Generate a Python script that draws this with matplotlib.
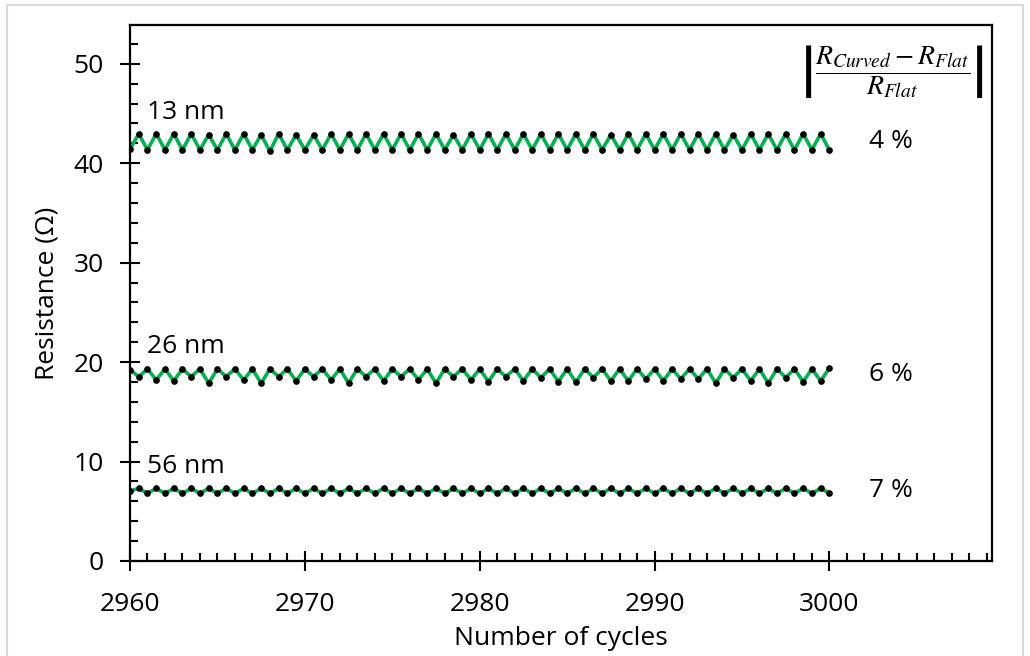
import numpy as np
import matplotlib
matplotlib.use("Agg")
import matplotlib.pyplot as plt
from matplotlib.patches import Rectangle

plt.rcParams['font.family'] = ['Open Sans', 'DejaVu Sans']
plt.rcParams['mathtext.fontset'] = 'stix'

# cycles: one point every half cycle, 2960 .. 3000
cycles = np.arange(2960, 3000.5, 0.5)

# 13 nm film: lows on whole cycles, highs on half cycles
r13_low = [41.4, 41.35, 41.35, 41.35, 41.35, 41.35, 41.35, 41.35, 41.2, 41.35,
           41.35, 41.35, 41.35, 41.35, 41.35, 41.35, 41.35, 41.35, 41.35, 41.35,
           41.35, 41.35, 41.35, 41.35, 41.35, 41.35, 41.35, 41.35, 41.35, 41.35,
           41.35, 41.35, 41.35, 41.35, 41.35, 41.35, 41.35, 41.35, 41.35, 41.35,
           41.35]
r13_high = [42.96, 42.96, 42.96, 42.96, 42.86, 42.96, 42.96, 42.86, 42.96, 42.86,
            42.86, 42.96, 42.96, 42.96, 42.96, 42.96, 42.96, 42.96, 42.86, 42.96,
            42.96, 42.96, 42.96, 42.96, 42.96, 42.96, 42.96, 42.86, 42.96, 42.96,
            42.96, 42.96, 42.96, 42.96, 42.86, 42.96, 42.96, 42.96, 42.96, 42.96]

# 26 nm film: highs on whole cycles, lows on half cycles
r26_high = [19.22, 19.32, 19.32, 19.32, 19.32, 19.32, 19.32, 19.32, 19.32, 19.32,
            19.32, 19.32, 19.32, 19.32, 19.32, 19.32, 19.32, 19.32, 19.32, 19.32,
            19.32, 19.32, 19.32, 19.32, 19.32, 19.32, 19.32, 19.32, 19.32, 19.32,
            19.32, 19.32, 19.32, 19.32, 19.32, 19.32, 19.32, 19.32, 19.32, 19.32,
            19.4]
r26_low = [18.54, 18.21, 18.11, 18.54, 17.87, 18.54, 18.21, 17.87, 18.54, 18.11,
           18.54, 18.21, 17.87, 18.54, 18.11, 18.54, 18.21, 17.87, 18.54, 18.21,
           18.04, 18.54, 18.11, 18.44, 18.04, 17.98, 18.44, 18.11, 18.11, 18.31,
           18.11, 18.31, 18.31, 17.87, 18.44, 18.11, 17.87, 18.44, 18.04, 18.11]

# 56 nm film: lows on whole cycles, highs on half cycles
r56_low = [7.05, 6.8, 6.8, 6.8, 6.8, 6.8, 6.8, 6.8, 6.8, 6.8,
           6.8, 6.8, 6.8, 6.8, 6.8, 6.8, 6.8, 6.8, 6.8, 6.8,
           6.8, 6.8, 6.8, 6.8, 6.8, 6.8, 6.8, 6.8, 6.8, 6.8,
           6.8, 6.8, 6.8, 6.8, 6.8, 6.8, 6.8, 6.8, 6.8, 6.8,
           6.82]
r56_high = [7.3, 7.3, 7.3, 7.3, 7.3, 7.3, 7.3, 7.3, 7.3, 7.3,
            7.3, 7.3, 7.3, 7.3, 7.3, 7.3, 7.3, 7.3, 7.3, 7.3,
            7.3, 7.3, 7.3, 7.3, 7.3, 7.3, 7.3, 7.3, 7.3, 7.3,
            7.3, 7.3, 7.3, 7.3, 7.3, 7.3, 7.3, 7.3, 7.3, 7.3]

thick_labels = ['13 nm', '26 nm', '56 nm']
change_labels = ['4 %', '6 %', '7 %']


def interleave(first, second):
    # first goes on whole cycles, second on half cycles
    out = []
    for i in range(len(first)):
        out.append(first[i])
        if i < len(second):
            out.append(second[i])
    return np.array(out)


r13 = interleave(r13_low, r13_high)
r26 = interleave(r26_high, r26_low)
r56 = interleave(r56_low, r56_high)
series = [r13, r26, r56]

fs = 19

fig = plt.figure(figsize=(10.3, 6.56), dpi=100)
ax = fig.add_axes([130 / 1030, 1 - 561 / 656, (992 - 130) / 1030, (561 - 25) / 656])

for r, lab, pc in zip(series, thick_labels, change_labels):
    ax.plot(cycles, r, color='#00B050', lw=2.6, zorder=2)
    ax.plot(cycles, r, 'o', color='black', ms=3.8, zorder=3)
    ax.text(cycles[0] + 1.0, r.max() + 0.9, lab, fontsize=fs, ha='left', va='bottom')
    ax.text(3003.5, r.mean(), pc, fontsize=fs, ha='center', va='center')

ax.text(3003.6, 49.2,
        r'$\left|\dfrac{R_{Curved}-R_{Flat}}{R_{Flat}}\right|$',
        fontsize=20, ha='center', va='center')

ax.set_xlim(2960, 3009.3)
ax.set_ylim(0, 53.9)
ax.set_xticks(np.arange(2960, 3001, 10))
ax.set_xticks(np.arange(2960, 3010, 1), minor=True)
ax.set_yticks(np.arange(0, 51, 10))
ax.set_yticks(np.arange(0, 54, 2), minor=True)

ax.tick_params(which='major', direction='inout', length=14, width=1.5, labelsize=fs)
ax.tick_params(which='minor', direction='in', length=6, width=1.5)
ax.tick_params(axis='x', which='major', pad=15)
ax.tick_params(axis='y', which='major', pad=12)
for s in ax.spines.values():
    s.set_linewidth(1.6)

ax.set_xlabel('Number of cycles', fontsize=fs, labelpad=7)
ax.set_ylabel('Resistance (Ω)', fontsize=fs, labelpad=10)

# light chart-area border
fig.patches.append(Rectangle((7 / 1030, -0.02), 1 - 14 / 1030, 1 - 5 / 656 + 0.02,
                             transform=fig.transFigure, fill=False,
                             edgecolor='#d9d9d9', lw=1.5))

fig.savefig('out.png', dpi=100)
